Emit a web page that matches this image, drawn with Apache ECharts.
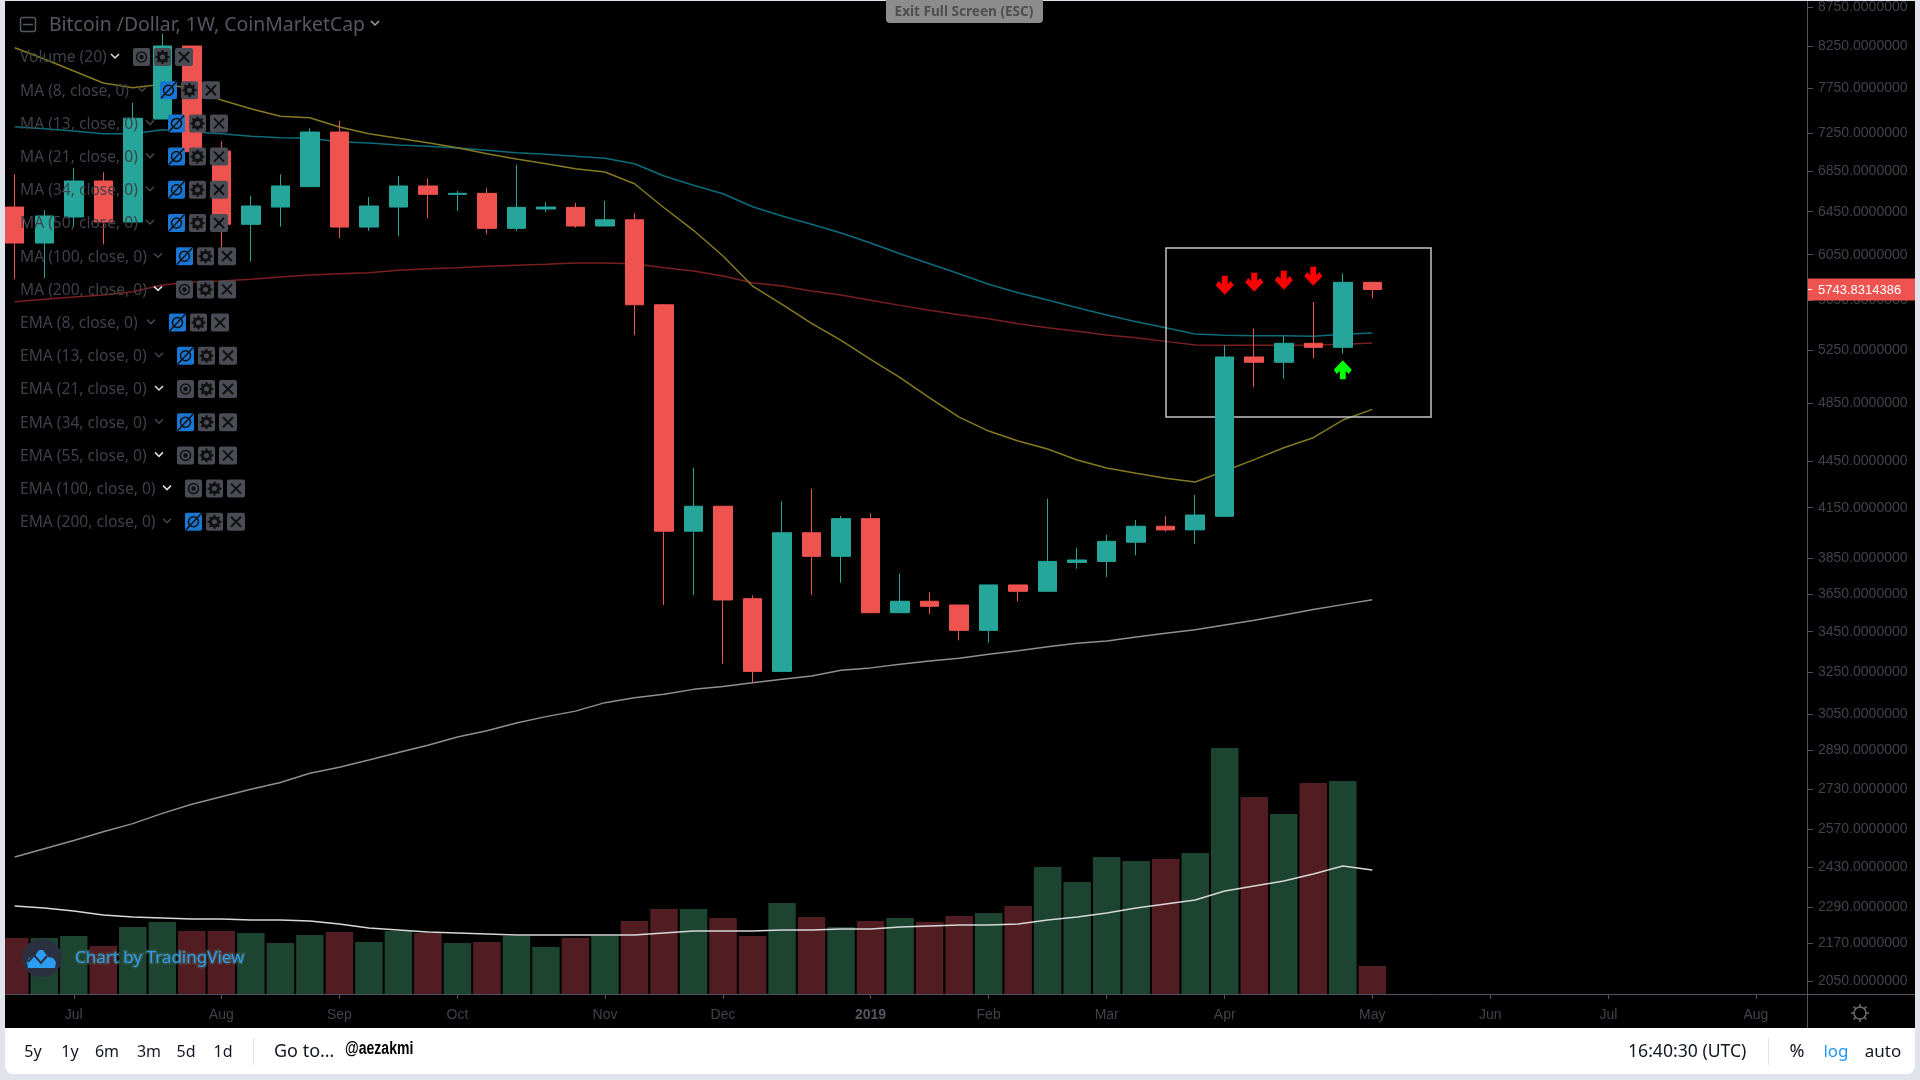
<!DOCTYPE html>
<html>
<head>
<meta charset="utf-8">
<title>Bitcoin / Dollar</title>
<script src="https://cdn.jsdelivr.net/npm/echarts@6/dist/echarts.min.js"></script>
<style>
	html, body { margin: 0; padding: 0; background: #e0e3eb; overflow: hidden; }
	#panel { position: absolute; left: 5px; top: 1px; width: 1910px; height: 1027px; background: #000; }
	#bar { position: absolute; left: 5px; top: 1028px; width: 1910px; height: 46px; background: #fff; border-radius: 0 0 8px 8px; }
	#main { position: absolute; left: 0; top: 0; width: 1920px; height: 1080px; }
</style>
</head>
<body>
<div id="panel"></div>
<div id="bar"></div>
<div id="main"></div>
<script>
var weeks = ['2018-06-18', '2018-06-25', '2018-07-02', '2018-07-09', '2018-07-16', '2018-07-23', '2018-07-30', '2018-08-06', '2018-08-13', '2018-08-20', '2018-08-27', '2018-09-03', '2018-09-10', '2018-09-17', '2018-09-24', '2018-10-01', '2018-10-08', '2018-10-15', '2018-10-22', '2018-10-29', '2018-11-05', '2018-11-12', '2018-11-19', '2018-11-26', '2018-12-03', '2018-12-10', '2018-12-17', '2018-12-24', '2018-12-31', '2019-01-07', '2019-01-14', '2019-01-21', '2019-01-28', '2019-02-04', '2019-02-11', '2019-02-18', '2019-02-25', '2019-03-04', '2019-03-11', '2019-03-18', '2019-03-25', '2019-04-01', '2019-04-08', '2019-04-15', '2019-04-22', '2019-04-29', '2019-05-06'];

// open, close, low, high
var candles = [
	[6495, 6156, 5832, 6820], [6156, 6409, 5843, 6466], [6399, 6752, 6304, 6881], [6752, 6352, 6144, 6840],
	[6352, 7413, 6342, 7587], [7405, 8256, 7405, 8405], [8256, 7053, 7053, 8256], [7060, 6330, 6113, 7166],
	[6330, 6505, 5987, 6603], [6495, 6702, 6307, 6820], [6695, 7263, 6692, 7303], [7263, 6304, 6199, 7383],
	[6304, 6505, 6267, 6593], [6495, 6702, 6221, 6802], [6702, 6619, 6387, 6779], [6619, 6629, 6456, 6652],
	[6629, 6292, 6236, 6679], [6292, 6492, 6267, 6918], [6476, 6495, 6447, 6541], [6492, 6314, 6298, 6534],
	[6314, 6373, 6314, 6554], [6373, 5615, 5365, 6435], [5615, 4007, 3590, 5621], [4007, 4159, 3644, 4405],
	[4159, 3617, 3289, 4161], [3624, 3252, 3197, 3642], [3252, 3998, 3252, 4190], [3998, 3860, 3644, 4269],
	[3860, 4083, 3711, 4099], [4083, 3549, 3549, 4116], [3549, 3610, 3549, 3761], [3610, 3583, 3542, 3658],
	[3590, 3457, 3406, 3590], [3457, 3699, 3394, 3699], [3699, 3664, 3608, 3699], [3664, 3831, 3664, 4206],
	[3825, 3839, 3790, 3910], [3831, 3947, 3744, 3985], [3942, 4037, 3866, 4075], [4037, 4015, 4005, 4097],
	[4015, 4105, 3933, 4229], [4097, 5195, 4097, 5288], [5195, 5154, 4967, 5421], [5154, 5302, 5029, 5362],
	[5302, 5270, 5184, 5638], [5270, 5806, 5220, 5884], [5806, 5743.8314386, 5669, 5806]
];

var maYellow = [8235, 8098, 7954, 7813, 7759, 7798, 7752, 7618, 7520, 7435, 7420, 7318, 7245, 7195, 7148, 7095, 7032, 6977, 6928, 6877, 6843, 6724, 6488, 6274, 6038, 5774, 5619, 5462, 5325, 5177, 5037, 4887, 4750, 4652, 4584, 4529, 4456, 4403, 4368, 4336, 4312, 4383, 4458, 4538, 4606, 4729, 4805];
var maTeal = [7321, 7299, 7274, 7245, 7245, 7288, 7266, 7245, 7217, 7202, 7195, 7159, 7145, 7124, 7110, 7092, 7068, 7043, 7026, 7005, 6984, 6928, 6802, 6709, 6625, 6498, 6409, 6330, 6248, 6156, 6059, 5969, 5881, 5789, 5717, 5655, 5590, 5530, 5475, 5426, 5375, 5365, 5362, 5362, 5357, 5373, 5383];
var maRed = [5641, 5661, 5680, 5697, 5725, 5783, 5809, 5817, 5832, 5852, 5870, 5881, 5890, 5911, 5925, 5934, 5946, 5955, 5964, 5975, 5975, 5969, 5934, 5905, 5861, 5802, 5774, 5731, 5697, 5652, 5610, 5569, 5532, 5499, 5459, 5426, 5397, 5367, 5346, 5317, 5288, 5286, 5286, 5286, 5288, 5294, 5305];
var maWhite = [2466, 2497, 2528, 2561, 2592, 2632, 2668, 2698, 2728, 2756, 2794, 2819, 2850, 2882, 2913, 2949, 2977, 3011, 3040, 3065, 3104, 3127, 3143, 3166, 3180, 3197, 3214, 3230, 3257, 3269, 3287, 3303, 3316, 3336, 3354, 3373, 3391, 3403, 3423, 3442, 3460, 3485, 3509, 3537, 3566, 3592, 3618];

// volume, unit is only relative
var volumes = [56, 56, 58, 48, 67, 72, 63, 63, 61, 51, 59, 62, 52, 63, 61, 51, 52, 58, 47, 56, 58, 73, 85, 85, 76, 58, 91, 77, 67, 73, 76, 72, 78, 81, 88, 127, 112, 137, 133, 135, 141, 246, 197, 180, 211, 213, 28];
var volumeMa = [88, 86, 83, 79, 77, 76, 75, 75, 74, 74, 73, 70, 66, 64, 62, 61, 60, 59, 59, 59, 59, 59, 61, 63, 63, 63, 64, 64, 65, 65, 67, 68, 69, 69, 70, 74, 77, 81, 86, 90, 94, 103, 108, 113, 120, 128, 124];

var priceTicks = [8750, 8250, 7750, 7250, 6850, 6450, 6050, 5650, 5250, 4850, 4450, 4150, 3850, 3650, 3450, 3250, 3050, 2890, 2730, 2570, 2430, 2290, 2170, 2050];
var timeTicks = ['2018-07-02', '2018-08-06', '2018-09-03', '2018-10-01', '2018-11-05', '2018-12-03', '2019-01-07', '2019-02-04', '2019-03-04', '2019-04-01', '2019-05-06', '2019-06-03', '2019-07-01', '2019-08-05'];
var timeLabels = ['Jul', 'Aug', 'Sep', 'Oct', 'Nov', 'Dec', '2019', 'Feb', 'Mar', 'Apr', 'May', 'Jun', 'Jul', 'Aug'];

var downArrowWeeks = ['2019-04-01', '2019-04-08', '2019-04-15', '2019-04-22'];
var downArrowPrices = [5781, 5807, 5824, 5859];
var upArrowWeeks = ['2019-04-29'];
var upArrowPrices = [5096];

var studyNames = ['Volume (20)', 'MA (8, close, 0)', 'MA (13, close, 0)', 'MA (21, close, 0)', 'MA (34, close, 0)', 'MA (50, close, 0)', 'MA (100, close, 0)', 'MA (200, close, 0)', 'EMA (8, close, 0)', 'EMA (13, close, 0)', 'EMA (21, close, 0)', 'EMA (34, close, 0)', 'EMA (55, close, 0)', 'EMA (100, close, 0)', 'EMA (200, close, 0)'];
var studyHidden = [false, true, true, true, true, true, true, false, true, true, false, true, false, false, true];
var studyButtonX = [133, 160, 168, 168, 168, 168, 176, 176, 169, 177, 177, 177, 177, 185, 185];

var rangeNames = ['5y', '1y', '6m', '3m', '5d', '1d'];
var rangeX = [33, 70, 107, 149, 186, 223];

var GREEN = '#26a69a', RED = '#ef5350';
var DIM = '#41434b', AXIS = '#50535e';
var UI_FONT = '"Noto Sans", sans-serif';
var WEEK = 7 * 24 * 3600 * 1000;

function toTime(d) {
	return +new Date(d);
}

var weekTimes = weeks.map(toTime);
var tickTimes = timeTicks.map(toTime);

function pairs(xs, ys) {
	return xs.map(function(x, i) {
		return [toTime(x), ys[i]];
	});
}

function maSeries(values, color) {
	return {
		type: 'line',
		data: pairs(weeks, values),
		symbol: 'none',
		z: 3,
		silent: true,
		lineStyle: { color: color, width: 1.5 }
	};
}

// shorthand for graphic elements, all over the series
function gRect(x, y, w, h, fill, r) {
	return { type: 'rect', silent: true, z: 50, shape: { x: x, y: y, width: w, height: h, r: r || 0 }, style: { fill: fill } };
}

function gLine(x1, y1, x2, y2, color, width) {
	return { type: 'line', silent: true, z: 51, shape: { x1: x1, y1: y1, x2: x2, y2: y2 }, style: { stroke: color, lineWidth: width || 1 } };
}

function gText(x, y, str, font, fill, align) {
	return { type: 'text', silent: true, z: 52, x: x, y: y, style: { text: str, font: font, fill: fill, align: align || 'left', verticalAlign: 'middle' } };
}

function gCircle(x, y, r, stroke, fill, width) {
	return { type: 'circle', silent: true, z: 52, shape: { cx: x, cy: y, r: r }, style: { stroke: stroke, fill: fill || 'none', lineWidth: width || 1.5 } };
}

function gChevron(x, y, color) {
	return { type: 'polyline', silent: true, z: 52, shape: { points: [[x - 4, y - 2], [x, y + 2], [x + 4, y - 2]] }, style: { stroke: color, fill: 'none', lineWidth: 1.5 } };
}

function studyRows() {
	var els = [];
	studyNames.forEach(function(name, i) {
		var y = 57 + i * 33.2;
		var bx = studyButtonX[i];
		var off = !studyHidden[i];
		els.push(gText(20, y + 1, name, '15.6px ' + UI_FONT, '#3f4149'));
		els.push(gChevron(bx - 18, y - 1, off ? '#e0e0e0' : '#44464f'));
		// eye button
		els.push(gRect(bx, y - 9, 17, 18, off ? '#4a4c55' : '#1976d2', 2));
		els.push(gCircle(bx + 8.5, y, 5, '#111'));
		if (off) {
			els.push(gCircle(bx + 8.5, y, 1.5, '#111', '#111'));
		} else {
			els.push(gLine(bx + 1, y + 8, bx + 16, y - 8, '#111', 1.5));
		}
		// settings button
		els.push(gRect(bx + 21, y - 9, 17, 18, '#4a4c55', 2));
		els.push(gCircle(bx + 29.5, y, 4, '#111', 'none', 3));
		for (var k = 0; k < 8; k++) {
			var a = k * Math.PI / 4;
			els.push(gLine(bx + 29.5 + 4 * Math.cos(a), y + 4 * Math.sin(a), bx + 29.5 + 7 * Math.cos(a), y + 7 * Math.sin(a), '#111', 2));
		}
		// close button
		els.push(gRect(bx + 42, y - 9, 18, 18, '#4a4c55', 2));
		els.push(gLine(bx + 46, y - 5, bx + 56, y + 5, '#111', 2));
		els.push(gLine(bx + 46, y + 5, bx + 56, y - 5, '#111', 2));
	});
	return els;
}

function chrome(tagY) {
	var els = [];
	// page edge left of the panel, bars stick out there otherwise
	els.push(gRect(0, 0, 5, 1080, '#e0e3eb'));

	// symbol title
	els.push({ type: 'rect', silent: true, z: 52, shape: { x: 20.5, y: 17.5, width: 15, height: 14, r: 2 }, style: { stroke: '#55575f', fill: 'none', lineWidth: 1.5 } });
	els.push(gLine(23, 24.5, 33, 24.5, '#55575f', 1.5));
	els.push(gText(49, 25, 'Bitcoin /Dollar, 1W, CoinMarketCap', '19.4px ' + UI_FONT, '#55575f'));
	els.push(gChevron(375, 23, '#a0a0a0'));

	// full screen hint
	els.push(gRect(886, -6, 157, 29, '#8c8c8c', 4));
	els.push(gText(964, 12, 'Exit Full Screen (ESC)', 'bold 13.6px ' + UI_FONT, '#4f4f4f', 'center'));

	// drawn box
	els.push({ type: 'rect', silent: true, z: 4, shape: { x: 1166, y: 248, width: 265, height: 169 }, style: { stroke: '#c4c4c4', fill: 'none', lineWidth: 1.5 } });

	// price tag
	els.push(gRect(1807, tagY - 11, 108, 22, RED));
	els.push(gLine(1807, tagY, 1812, tagY, '#fff', 1));
	els.push(gText(1818, tagY + 1, '5743.8314386', '13px "Liberation Sans", sans-serif', '#fff'));

	// axis lines going on past the grid
	els.push(gLine(1807.5, 1, 1807.5, 1028, AXIS, 1));
	els.push(gLine(5, 994.5, 1915, 994.5, AXIS, 1));

	// settings icon under the price axis
	els.push(gCircle(1860, 1013, 6, '#6b6d75', 'none', 1.5));
	for (var k = 0; k < 8; k++) {
		var a = k * Math.PI / 4;
		els.push(gLine(1860 + 6 * Math.cos(a), 1013 + 6 * Math.sin(a), 1860 + 9 * Math.cos(a), 1013 + 9 * Math.sin(a), '#6b6d75', 1.5));
	}

	// watermark
	els.push({ type: 'ellipse', silent: true, z: 51, shape: { cx: 42, cy: 958, rx: 20, ry: 19 }, style: { fill: '#2a3040' } });
	els.push({ type: 'polygon', silent: true, z: 52, shape: { points: [[28, 968], [27, 962], [29, 958], [34, 957], [39, 950], [43, 950], [48, 957], [53, 958], [56, 962], [55, 968]] }, style: { fill: '#2b9df2' } });
	els.push({ type: 'polyline', silent: true, z: 53, shape: { points: [[28, 962], [34, 955], [41, 963], [47, 956]] }, style: { stroke: '#2a3040', fill: 'none', lineWidth: 2 } });
	els.push({ type: 'text', silent: true, z: 52, x: 75, y: 958, style: { text: 'Chart by TradingView', font: '17px ' + UI_FONT, fill: '#2f9ff0', verticalAlign: 'middle', stroke: 'rgba(70,110,100,0.45)', lineWidth: 3 } });

	// bottom toolbar
	rangeNames.forEach(function(name, i) {
		els.push(gText(rangeX[i], 1052, name, '16px ' + UI_FONT, '#131722', 'center'));
	});
	els.push(gLine(253.5, 1038, 253.5, 1065, '#e0e3eb', 1));
	els.push(gText(274, 1052, 'Go to…', '18px ' + UI_FONT, '#131722'));
	// stamped on top of the screenshot, narrow and heavy
	var stamp = gText(345, 1049, '@aezakmi', 'bold 18px "Liberation Sans", sans-serif', '#000');
	stamp.scaleX = 0.78;
	els.push(stamp);
	els.push(gText(1628, 1052, '16:40:30 (UTC)', '17.6px ' + UI_FONT, '#131722'));
	els.push(gLine(1768.5, 1038, 1768.5, 1065, '#e0e3eb', 1));
	els.push(gText(1797, 1052, '%', '18px ' + UI_FONT, '#131722', 'center'));
	els.push(gText(1836, 1052, 'log', '17px ' + UI_FONT, '#2196f3', 'center'));
	els.push(gText(1883, 1052, 'auto', '17px ' + UI_FONT, '#131722', 'center'));

	return els.concat(studyRows());
}

var chart = echarts.init(document.getElementById('main'));

var xMin = weekTimes[0] - 0.33 * WEEK;
var xMax = weekTimes[0] + 60.73 * WEEK;

var DOWN_ARROW = 'path://M6 0 L12 0 L12 8 L15 5 L18 9 L9 18 L0 9 L3 5 L6 8 Z';
var UP_ARROW = 'path://M6 18 L12 18 L12 10 L15 13 L18 9 L9 0 L0 9 L3 13 L6 10 Z';

chart.setOption({
	animation: false,
	backgroundColor: 'transparent',
	grid: [
		{ left: 5, top: 2, width: 1802, height: 992 },
		{ left: 5, top: 2, width: 1802, height: 992 }
	],
	xAxis: [{
		type: 'value',
		gridIndex: 0,
		min: xMin,
		max: xMax,
		position: 'bottom',
		axisLine: { show: false },
		splitLine: { show: false },
		axisTick: {
			show: true,
			length: 5,
			lineStyle: { color: AXIS },
			customValues: tickTimes
		},
		axisLabel: {
			color: DIM,
			fontFamily: '"Liberation Sans", sans-serif',
			fontSize: 14,
			margin: 14,
			hideOverlap: false,
			customValues: tickTimes,
			formatter: function(value) {
				var label = timeLabels[tickTimes.indexOf(value)];
				return label === '2019' ? '{b|2019}' : label;
			},
			rich: { b: { color: '#55575f', fontWeight: 'bold', fontSize: 14, fontFamily: '"Liberation Sans", sans-serif' } }
		}
	}, {
		type: 'value',
		gridIndex: 1,
		min: xMin,
		max: xMax,
		show: false,
		splitLine: { show: false }
	}],
	yAxis: [{
		type: 'log',
		gridIndex: 0,
		position: 'right',
		min: 2011,
		max: 8802,
		axisLine: { show: false },
		splitLine: { show: false },
		minorSplitLine: { show: false },
		axisTick: { show: true, length: 6, lineStyle: { color: AXIS }, customValues: priceTicks },
		axisLabel: {
			color: DIM,
			fontFamily: '"Liberation Sans", sans-serif',
			fontSize: 14,
			margin: 11,
			padding: [2, 0, 0, 0],
			hideOverlap: false,
			customValues: priceTicks,
			formatter: function(value) {
				return Number(value).toFixed(7);
			}
		}
	}, {
		type: 'value',
		gridIndex: 1,
		min: 0,
		max: 992,
		show: false,
		splitLine: { show: false }
	}],
	series: [{
		type: 'bar',
		xAxisIndex: 1,
		yAxisIndex: 1,
		barWidth: 27.5,
		clip: true,
		z: 1,
		silent: true,
		data: volumes.map(function(v, i) {
			var up = candles[i][1] >= candles[i][0];
			return { value: [weekTimes[i], v], itemStyle: { color: up ? '#1d4331' : '#521d22' } };
		})
	}, {
		type: 'line',
		xAxisIndex: 1,
		yAxisIndex: 1,
		data: pairs(weeks, volumeMa),
		symbol: 'none',
		z: 2,
		silent: true,
		lineStyle: { color: '#d8d8d8', width: 1.5 }
	},
	maSeries(maWhite, '#8f8f8f'),
	maSeries(maRed, '#7a1f1f'),
	maSeries(maTeal, '#0b6c7c'),
	maSeries(maYellow, '#867a20'),
	{
		type: 'candlestick',
		z: 5,
		silent: true,
		barWidth: 19,
		data: candles.map(function(c, i) {
			return [weekTimes[i]].concat(c);
		}),
		itemStyle: {
			color: GREEN,
			color0: RED,
			borderColor: GREEN,
			borderColor0: RED,
			borderWidth: 1
		}
	}, {
		type: 'scatter',
		z: 6,
		silent: true,
		symbol: DOWN_ARROW,
		symbolSize: [18, 19],
		itemStyle: { color: '#ff0000', opacity: 1 },
		data: pairs(downArrowWeeks, downArrowPrices)
	}, {
		type: 'scatter',
		z: 6,
		silent: true,
		symbol: UP_ARROW,
		symbolSize: [18, 19],
		itemStyle: { color: '#00ff00', opacity: 1 },
		data: pairs(upArrowWeeks, upArrowPrices)
	}]
});

var lastClose = candles[candles.length - 1][1];
chart.setOption({ graphic: { elements: chrome(chart.convertToPixel({ yAxisIndex: 0 }, lastClose)) } });
</script>
</body>
</html>
